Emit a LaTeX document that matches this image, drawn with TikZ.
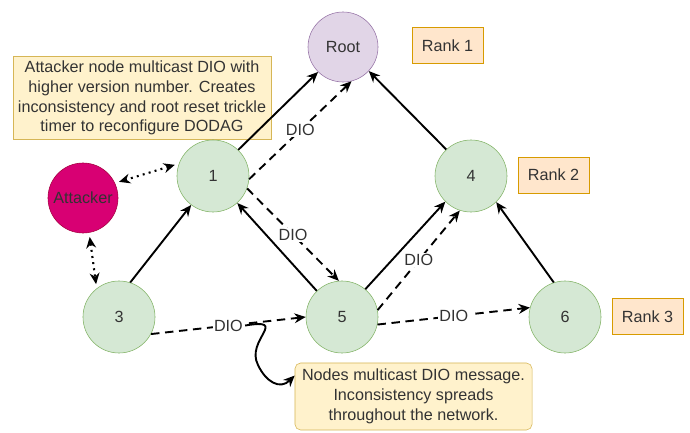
\documentclass[tikz,border=0pt]{standalone}
\usepackage{fontspec}
\setmainfont{Liberation Sans}
\usetikzlibrary{arrows.meta}
\definecolor{txt}{HTML}{333333}
\definecolor{moteFill}{HTML}{D5E8D4}
\definecolor{moteLine}{HTML}{82B366}
\definecolor{rootFill}{HTML}{E1D5E7}
\definecolor{rootLine}{HTML}{9673A6}
\definecolor{evilFill}{HTML}{D80073}
\definecolor{evilLine}{HTML}{A50040}
\definecolor{rankFill}{HTML}{FFE6CC}
\definecolor{rankLine}{HTML}{D79B00}
\definecolor{noteFill}{HTML}{FFF2CC}
\definecolor{noteLine}{HTML}{D6B656}
\begin{document}
\begin{tikzpicture}[x=0.025cm, y=-0.025cm, >={Stealth[length=8pt,width=7pt]},
  every node/.style={font=\fontsize{11.5}{14}\selectfont, text=txt},
  mote/.style={draw=moteLine, fill=moteFill, circle, minimum size=1.8cm, inner sep=0pt},
  rank/.style={draw=rankLine, fill=rankFill, minimum width=1.775cm, minimum height=0.9cm},
  note/.style={draw=noteLine, fill=noteFill, align=center, inner sep=2pt},
  link/.style={line width=1.35pt, ->},
  msg/.style={link, dash pattern=on 6pt off 4pt},
  spy/.style={line width=1.5pt, <->, dash pattern=on 1.4pt off 3pt, shorten <=3pt, shorten >=3pt},
  dio/.style={fill=white, inner sep=1pt}]
  \useasboundingbox (0,0) rectangle (690,433);
  \node[note, minimum width=6.45cm, minimum height=2.075cm] (note1) at (142,98) {Attacker node multicast DIO with\\higher version number. Creates\\inconsistency and root reset trickle\\timer to reconfigure DODAG};
  \node[note, rounded corners=4pt, minimum width=5.925cm, minimum height=1.675cm] (note2) at (413.5,396.5) {Nodes multicast DIO message.\\Inconsistency spreads\\throughout the network.};
  \node[draw=rootLine, fill=rootFill, circle, minimum size=1.75cm] (root) at (343,47) {Root};
  \node[draw=evilLine, fill=evilFill, circle, minimum size=1.75cm, inner sep=0pt] (att) at (83,198) {Attacker};
  \node[mote] (n1) at (213,176) {1};
  \node[mote] (n4) at (471,176) {4};
  \node[mote] (n3) at (119,317) {3};
  \node[mote] (n5) at (342,317) {5};
  \node[mote] (n6) at (565,317) {6};
  \node[rank] (r1) at (447.5,45.5) {Rank 1};
  \node[rank] (r2) at (553.5,175) {Rank 2};
  \node[rank] (r3) at (647.5,316.5) {Rank 3};
  % tree links
  \path[link] (n1.46) edge (root.225);
  \path[link] (n4.133) edge (root.317);
  \path[link] (n3.72) edge (n1.233);
  \path[link] (n5.134) edge (n1.312);
  \path[link] (n5.50) edge (n4.225);
  \path[link] (n6.108) edge (n4.314);
  % attacker
  \path[spy] (n1.160) edge (att.25);
  \path[spy] (att.280) edge (n3.128);
  % DIO messages
  \path[msg] (n1.355) edge node[dio] {DIO} (root.284);
  \path[msg] (n1.340) edge node[dio] {DIO} (n5.95);
  \path[msg] (n5.11) edge node[dio] {DIO} (n4.252);
  \path[msg] (n3.332) edge node[dio] (dio35) {DIO} (n5.180);
  \path[msg] (n5.348) edge node[dio] {DIO} (n6.165);
  \draw[link] (dio35.east) .. controls (290,318) and (245,340) .. (258,365) .. controls (266,382) and (280,390) .. (note2.170);
\end{tikzpicture}
\end{document}
